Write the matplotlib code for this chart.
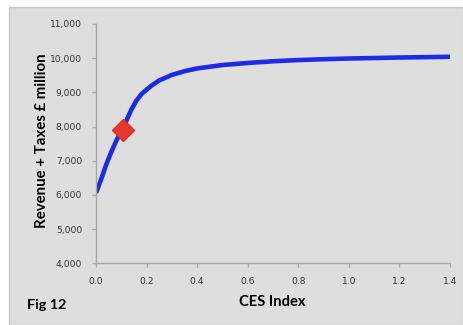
import matplotlib.pyplot as plt
from matplotlib.patches import Rectangle

# curve
ces_index = [0.0, 0.02, 0.04, 0.06, 0.08, 0.10, 0.12, 0.14, 0.16, 0.18, 0.20,
             0.22, 0.25, 0.30, 0.35, 0.40, 0.50, 0.60, 0.70, 0.80, 0.90,
             1.00, 1.10, 1.20, 1.30, 1.40]
revenue = [6060, 6450, 6880, 7250, 7580, 7870, 8170, 8500, 8760, 8950, 9080,
           9200, 9350, 9510, 9620, 9700, 9800, 9860, 9910, 9945, 9970,
           9990, 10005, 10020, 10030, 10040]

# highlighted point
point_x = [0.105]
point_y = [7890]

x_ticks = [0.0, 0.2, 0.4, 0.6, 0.8, 1.0, 1.2, 1.4]
y_ticks = [4000, 5000, 6000, 7000, 8000, 9000, 10000, 11000]

plt.rcParams['font.family'] = ['Lato', 'DejaVu Sans']

bg = '#dedede'
fig = plt.figure(figsize=(4.64, 3.25), dpi=100)
fig.patch.set_facecolor('white')
fig.patches.append(Rectangle((9 / 464, 0), 454 / 464, 1 - 7 / 325,
                             transform=fig.transFigure, facecolor=bg,
                             edgecolor='#c8c8c8', linewidth=1, zorder=-10))

ax = fig.add_axes([96 / 464, 1 - 263.3 / 325, 354 / 464, 239.3 / 325])
ax.set_facecolor(bg)

ax.plot(ces_index, revenue, color='#1f2be0', linewidth=3.3,
        solid_capstyle='butt', zorder=2)
ax.plot(point_x, point_y, marker='D', markersize=11, color='#e8382e',
        markeredgecolor='#d83028', linestyle='none', zorder=3)

ax.set_xlim(0, 1.4)
ax.set_ylim(4000, 11000)
ax.set_xticks(x_ticks)
ax.set_yticks(y_ticks)
ax.set_xticklabels([f'{v:.1f}' for v in x_ticks])
ax.set_yticklabels([f'{v:,}' for v in y_ticks])

for side in ['top', 'right']:
    ax.spines[side].set_visible(False)
for side in ['left', 'bottom']:
    ax.spines[side].set_color('#a8a8a8')
    ax.spines[side].set_linewidth(1.0)
ax.tick_params(axis='both', colors='#a8a8a8', length=3, width=1,
               labelsize=6.6, labelcolor='#333333', pad=7)
for lbl in ax.get_xticklabels() + ax.get_yticklabels():
    lbl.set_family('DejaVu Sans')

ax.set_xlabel('CES Index', fontsize=10.6, fontweight='bold')
ax.xaxis.set_label_coords(0.497, -0.132)
ax.set_ylabel('Revenue + Taxes £ million', fontsize=10.8, fontweight='bold')
ax.yaxis.set_label_coords(-0.133, 0.511)

fig.text(27 / 464, 1 - 305 / 325, 'Fig 12', fontsize=10.4, fontweight='bold',
         va='center', ha='left')

fig.savefig('out.png', dpi=100, facecolor=fig.get_facecolor())
